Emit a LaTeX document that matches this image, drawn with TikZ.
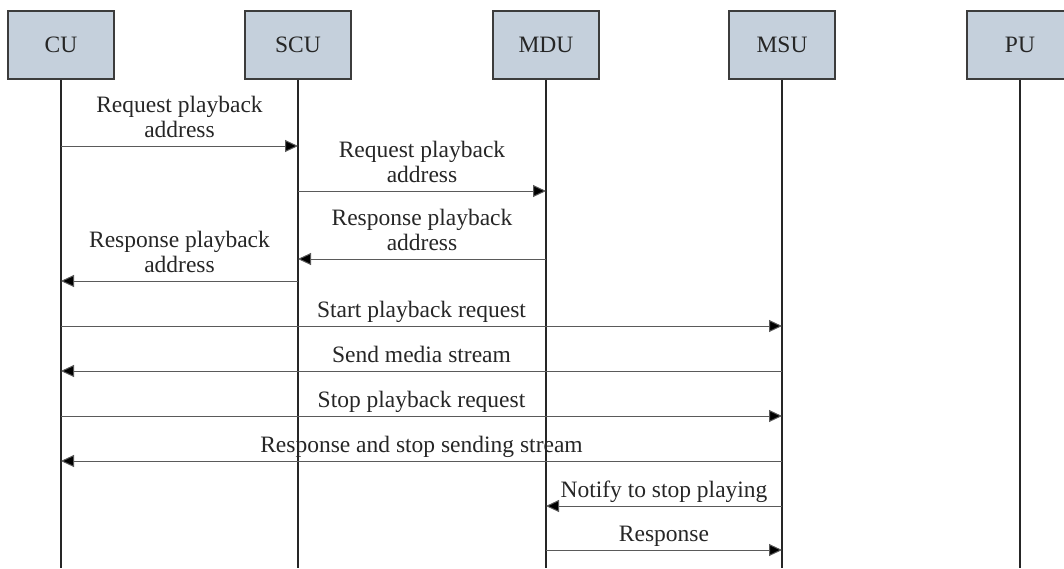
\documentclass[tikz,border=0pt]{standalone}
\usepackage{fontspec}
\setmainfont{Liberation Serif}
\usetikzlibrary{arrows.meta}
\definecolor{boxfill}{RGB}{197,208,220}
\definecolor{boxline}{RGB}{60,60,60}
\definecolor{msgline}{RGB}{90,90,90}
\begin{document}
\begin{tikzpicture}[x=1pt,y=-1pt,
  actor/.style={draw=boxline, line width=1.2pt, fill=boxfill, minimum width=106pt, minimum height=68pt, inner sep=0pt, font=\fontsize{23.5}{25}\selectfont, text=black!85},
  life/.style={draw=black!85, line width=1.1pt},
  msg/.style={draw=msgline, line width=1pt, -{Triangle[length=13pt,width=12pt,fill=black]}},
  lbl/.style={anchor=south, inner sep=0pt, yshift=8pt, align=center, text depth=0pt, font=\fontsize{23.5}{25}\selectfont, text=black!85}]
\useasboundingbox (0,0) rectangle (1064,568);
\clip (0,0) rectangle (1064,568);
\node[actor] (cu)  at (61,45)   {CU};
\node[actor] (scu) at (298,45)  {SCU};
\node[actor] (mdu) at (546,45)  {MDU};
\node[actor] (msu) at (782,45)  {MSU};
\node[actor] (pu)  at (1020,45) {PU};
\coordinate (cuE)  at (61,568);
\coordinate (scuE) at (298,568);
\coordinate (mduE) at (546,568);
\coordinate (msuE) at (782,568);
\coordinate (puE)  at (1020,568);
\draw[life] (cu.south) -- (cuE);
\draw[life] (scu.south) -- (scuE);
\draw[life] (mdu.south) -- (mduE);
\draw[life] (msu.south) -- (msuE);
\draw[life] (pu.south) -- (puE);
\draw[msg] (cu |- 0,146) -- node[lbl] {Request playback\\address} (scu |- 0,146);
\draw[msg] (scu |- 0,191) -- node[lbl] {Request playback\\address} (mdu |- 0,191);
\draw[msg] (mdu |- 0,259) -- node[lbl] {Response playback\\address} (scu |- 0,259);
\draw[msg] (scu |- 0,281) -- node[lbl] {Response playback\\address} (cu |- 0,281);
\draw[msg] (cu |- 0,326) -- node[lbl] {Start playback request} (msu |- 0,326);
\draw[msg] (msu |- 0,371) -- node[lbl] {Send media stream} (cu |- 0,371);
\draw[msg] (cu |- 0,416) -- node[lbl] {Stop playback request} (msu |- 0,416);
\draw[msg] (msu |- 0,461) -- node[lbl] {Response and stop sending stream} (cu |- 0,461);
\draw[msg] (msu |- 0,506) -- node[lbl] {Notify to stop playing} (mdu |- 0,506);
\draw[msg] (mdu |- 0,550) -- node[lbl] {Response} (msu |- 0,550);
\end{tikzpicture}
\end{document}
